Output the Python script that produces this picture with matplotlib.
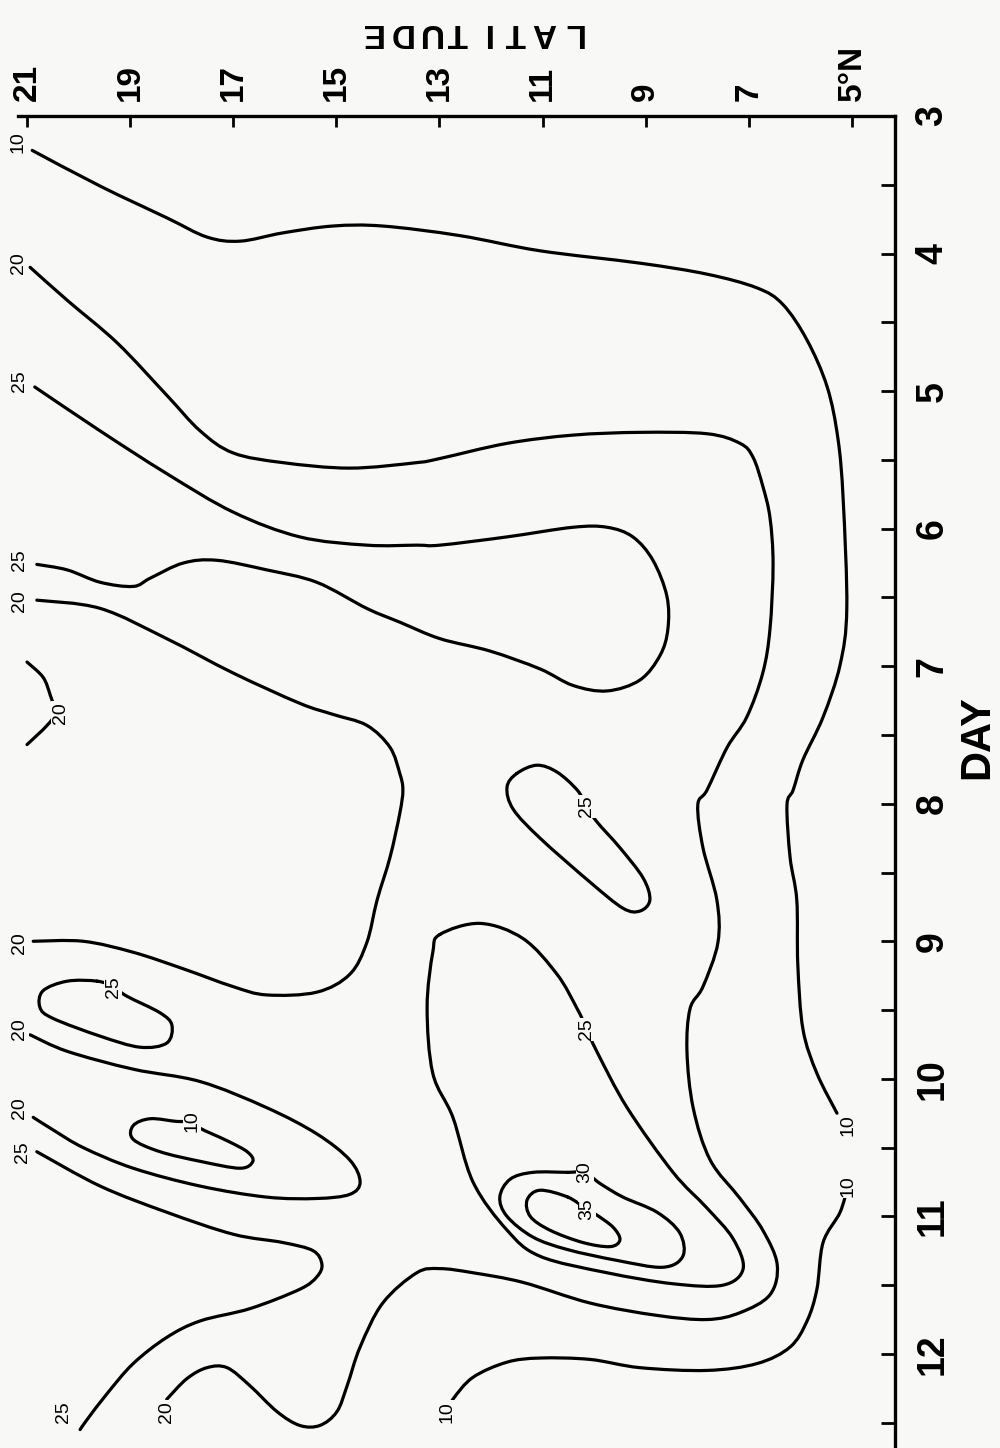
import numpy as np
import matplotlib
matplotlib.use("Agg")
import matplotlib.pyplot as plt
from matplotlib.path import Path
from matplotlib.patches import PathPatch

plt.rcParams['font.family'] = ['Liberation Sans', 'DejaVu Sans']

BG = '#f8f8f6'

# axis ticks
lat_ticks = [21, 19, 17, 15, 13, 11, 9, 7, 5]
lat_labels = ['21', '19', '17', '15', '13', '11', '9', '7', '5°N']
day_ticks = [3, 4, 5, 6, 7, 8, 9, 10, 11, 12]
day_minor = [3.5, 4.5, 5.5, 6.5, 7.5, 8.5, 9.5, 10.5, 11.5, 12.5]

# contour lines (latitude, day)
c10_top_lat = [20.90, 19.58, 18.29, 17.51, 16.87, 16.04, 15.07, 14.10, 12.60, 11.05, 9.11,
               7.81, 6.84, 6.34, 5.87, 5.48, 5.27, 5.17, 5.10, 5.23, 5.56, 5.95, 6.14,
               6.26, 6.20, 6.07, 6.05, 5.95, 5.68, 5.29]
c10_top_day = [3.25, 3.51, 3.74, 3.88, 3.91, 3.85, 3.80, 3.80, 3.87, 3.98, 4.07,
               4.15, 4.25, 4.37, 4.63, 4.97, 5.35, 5.79, 6.58, 6.99, 7.37, 7.68, 7.90,
               8.01, 8.39, 8.70, 9.17, 9.64, 9.96, 10.25]

c20_big_lat = [20.94, 20.22, 19.25, 18.29, 17.64, 17.00, 16.04, 14.74, 13.44, 12.99, 11.69,
               10.41, 9.11, 7.81, 7.17, 6.92, 6.73, 6.59, 6.53, 6.59, 6.73, 7.04, 7.42,
               7.81, 7.99, 7.89, 7.62, 7.60, 7.89, 8.14, 8.20, 8.08, 7.75, 7.17, 6.73,
               6.45, 6.59, 7.17, 7.81, 8.78, 10.08, 11.38, 12.35, 12.99, 13.44, 14.10,
               14.54, 14.79, 14.99, 15.32, 15.71, 16.15, 16.68, 17.12, 17.51, 17.90, 18.29]
c20_big_day = [4.10, 4.34, 4.65, 5.03, 5.29, 5.45, 5.52, 5.56, 5.52, 5.49, 5.38,
               5.32, 5.30, 5.31, 5.38, 5.48, 5.69, 5.92, 6.26, 6.73, 7.05, 7.37, 7.59,
               7.90, 8.01, 8.32, 8.70, 9.01, 9.33, 9.49, 9.80, 10.21, 10.59, 10.87, 11.10,
               11.35, 11.57, 11.70, 11.75, 11.72, 11.63, 11.48, 11.41, 11.38, 11.41, 11.63,
               11.95, 12.23, 12.42, 12.52, 12.52, 12.42, 12.23, 12.10, 12.10, 12.18, 12.33]

c25_u_lat = [20.85, 19.58, 18.29, 17.00, 15.71, 14.41, 13.44, 12.99, 11.69, 10.41, 9.75,
             9.25, 8.86, 8.59, 8.57, 8.72, 9.11, 9.75, 10.41, 11.05, 12.02, 12.99, 13.77,
             14.41, 15.38, 16.35, 17.32, 17.97, 18.61, 18.94, 19.58, 20.22, 20.81]
c25_u_day = [4.97, 5.29, 5.60, 5.88, 6.06, 6.12, 6.12, 6.12, 6.06, 5.99, 5.99,
             6.06, 6.23, 6.49, 6.73, 6.92, 7.10, 7.18, 7.14, 7.02, 6.89, 6.80, 6.68,
             6.58, 6.39, 6.30, 6.23, 6.25, 6.36, 6.42, 6.39, 6.30, 6.26]

c20_mid_lat = [20.81, 19.58, 18.29, 17.00, 15.71, 15.07, 14.41, 13.96, 13.77, 13.71, 13.77,
               13.96, 14.21, 14.41, 14.74, 15.38, 16.35, 17.00, 17.97, 18.94, 19.91, 20.88]
c20_mid_day = [6.52, 6.58, 6.80, 7.05, 7.27, 7.35, 7.43, 7.59, 7.78, 7.90, 8.07,
               8.39, 8.70, 9.01, 9.24, 9.37, 9.39, 9.33, 9.20, 9.08, 9.00, 9.00]

c20_arc_lat = [21.00, 20.69, 20.55, 20.46, 20.61, 21.00]
c20_arc_day = [6.97, 7.08, 7.21, 7.34, 7.43, 7.57]

c25_small_lat = [19.64, 20.22, 20.69, 20.75, 20.50, 19.58, 18.81, 18.29, 18.19, 18.42, 19.06,
                 19.33, 19.64]
c25_small_day = [9.29, 9.29, 9.36, 9.48, 9.56, 9.69, 9.77, 9.74, 9.61, 9.52, 9.40,
                 9.33, 9.29]

c20_loop_lat = [20.94, 20.22, 18.94, 17.64, 16.35, 15.38, 14.74, 14.54, 14.74, 15.38, 16.35,
                17.64, 18.94, 19.91, 20.50, 20.88]
c20_loop_day = [9.68, 9.80, 9.93, 10.02, 10.21, 10.40, 10.59, 10.75, 10.84, 10.87, 10.86,
                10.78, 10.65, 10.50, 10.37, 10.28]

c10_small_lat = [17.80, 18.09, 18.61, 18.94, 18.94, 18.42, 17.64, 16.87, 16.62, 16.73, 17.12,
                 17.64, 17.80]
c10_small_day = [10.31, 10.31, 10.29, 10.34, 10.44, 10.53, 10.60, 10.65, 10.60, 10.53, 10.45,
                 10.36, 10.31]

c25_low_lat = [20.81, 19.58, 18.29, 17.00, 16.04, 15.45, 15.28, 15.38, 15.71, 16.67, 17.64,
               18.29, 18.94, 19.45, 19.84, 19.97]
c25_low_day = [10.53, 10.78, 10.97, 11.13, 11.19, 11.25, 11.35, 11.44, 11.53, 11.67, 11.76,
               11.88, 12.07, 12.29, 12.48, 12.55]

c25_oval_lat = [11.50, 11.11, 10.72, 10.33, 10.14, 9.95, 9.50, 9.05, 8.92, 9.11, 9.44,
                10.08, 11.05, 11.57, 11.69, 11.50]
c25_oval_day = [7.78, 7.72, 7.77, 7.90, 8.02, 8.13, 8.32, 8.54, 8.70, 8.78, 8.76,
                8.57, 8.25, 8.04, 7.88, 7.78]

c25_big_lat = [12.99, 12.21, 11.38, 10.72, 10.33, 10.14, 9.95, 9.36, 8.47, 7.81, 7.31,
               7.11, 7.50, 8.47, 9.75, 11.05, 11.69, 12.35, 12.74, 13.13, 13.24, 13.13, 12.99]
c25_big_day = [8.95, 8.87, 8.98, 9.24, 9.49, 9.64, 9.80, 10.21, 10.68, 10.94, 11.16,
               11.38, 11.50, 11.49, 11.41, 11.29, 11.10, 10.75, 10.28, 9.96, 9.48, 9.08, 8.95]

c30_lat = [10.51, 11.19, 11.63, 11.83, 11.69, 11.19, 10.53, 9.56, 8.67, 8.28, 8.34,
           8.78, 9.44, 9.89, 10.18, 10.51]
c30_day = [10.68, 10.68, 10.73, 10.86, 11.00, 11.15, 11.24, 11.32, 11.37, 11.29, 11.12,
           10.97, 10.86, 10.76, 10.68, 10.68]

c35_lat = [10.51, 11.05, 11.30, 11.24, 10.86, 10.22, 9.69, 9.50, 9.63, 9.95, 10.14, 10.51]
c35_day = [10.86, 10.81, 10.88, 11.00, 11.10, 11.19, 11.22, 11.17, 11.08, 10.99, 10.95, 10.86]

c10_low_lat = [5.08, 5.23, 5.56, 5.68, 5.87, 6.20, 6.84, 7.81, 9.11, 10.08, 11.05,
               11.69, 12.35, 12.74, 12.85]
c10_low_day = [10.78, 10.97, 11.19, 11.53, 11.76, 11.95, 12.07, 12.12, 12.10, 12.04, 12.03,
               12.06, 12.17, 12.33, 12.42]

# contour value labels
label_text = ['10', '20', '25', '25', '20', '20', '20', '25', '20', '20', '25', '10',
              '25', '20', '10', '25', '25', '30', '35', '10', '10']
label_lat = [21.17, 21.17, 21.14, 21.14, 21.14, 20.36, 21.14, 19.33, 21.14, 21.14, 21.08, 17.80,
             20.30, 18.29, 12.85, 10.14, 10.14, 10.18, 10.14, 5.08, 5.08]
label_day = [3.19, 4.07, 4.93, 6.23, 6.53, 7.34, 9.01, 9.33, 9.64, 10.21, 10.53, 10.31,
             12.42, 12.42, 12.42, 8.02, 9.64, 10.68, 10.95, 10.34, 10.78]

lines = [(c10_top_lat, c10_top_day), (c20_big_lat, c20_big_day), (c25_u_lat, c25_u_day),
         (c20_mid_lat, c20_mid_day), (c20_arc_lat, c20_arc_day), (c25_small_lat, c25_small_day),
         (c20_loop_lat, c20_loop_day), (c10_small_lat, c10_small_day), (c25_low_lat, c25_low_day),
         (c25_oval_lat, c25_oval_day), (c25_big_lat, c25_big_day), (c30_lat, c30_day),
         (c35_lat, c35_day), (c10_low_lat, c10_low_day)]


def smooth_path(xs, ys):
    """Bezier path passing through the traced points (Catmull-Rom style)"""
    pts = np.column_stack([xs, ys]).astype(float)
    closed = np.allclose(pts[0], pts[-1])
    if closed:
        core = pts[:-1]
        m = len(core)
        get = lambda i: core[i % m]
        segs = range(m)
    else:
        n = len(pts)
        get = lambda i: pts[min(max(i, 0), n - 1)]
        segs = range(n - 1)
    verts = [get(0)]
    codes = [Path.MOVETO]
    for i in segs:
        p0, p1, p2, p3 = get(i - 1), get(i), get(i + 1), get(i + 2)
        verts += [p1 + (p2 - p0) / 6, p2 - (p3 - p1) / 6, p2]
        codes += [Path.CURVE4] * 3
    return Path(verts, codes)


fig = plt.figure(figsize=(10, 14.48), dpi=100, facecolor=BG)
ax = fig.add_axes([0.018, 0.0, 0.877, 0.91989])
ax.set_facecolor(BG)

for la, dy in lines:
    ax.add_patch(PathPatch(smooth_path(la, dy), fill=False, ec='black', lw=2.3,
                           capstyle='round', joinstyle='round'))

for s, la, dy in zip(label_text, label_lat, label_day):
    ax.text(la, dy, s, rotation=90, ha='center', va='center', fontsize=14,
            bbox=dict(fc=BG, ec='none', pad=0.6), clip_on=False, zorder=5)

ax.set_xlim(21.175, 4.165)
ax.set_ylim(12.684, 3.0)

ax.xaxis.tick_top()
ax.yaxis.tick_right()
ax.set_xticks(lat_ticks)
ax.set_xticklabels(lat_labels, rotation=90, fontsize=24, fontweight='bold')
ax.set_yticks(day_ticks)
ax.set_yticks(day_minor, minor=True)
ax.set_yticklabels([str(d) for d in day_ticks], rotation=90, fontsize=27,
                   fontweight='bold', va='center')
ax.tick_params(axis='x', direction='in', length=8, width=2, pad=11, top=True, bottom=False)
ax.tick_params(axis='y', which='both', direction='in', length=10, width=2, pad=14,
               right=True, left=False)

for side in ['left', 'bottom']:
    ax.spines[side].set_visible(False)
for side in ['top', 'right']:
    ax.spines[side].set_linewidth(2.4)

fig.text(0.977, 1 - 737 / 1448, 'DAY', rotation=90, ha='center', va='center',
         fontsize=30, fontweight='bold')

# upside-down, widely spaced axis title
for i, ch in enumerate('LATITUDE'):
    fig.text((573 - i * 28.9) / 1000, 1 - 33 / 1448, ch, rotation=180, ha='center',
             va='center', fontsize=24, fontweight='bold')

fig.savefig('out.png', dpi=100, facecolor=BG)
